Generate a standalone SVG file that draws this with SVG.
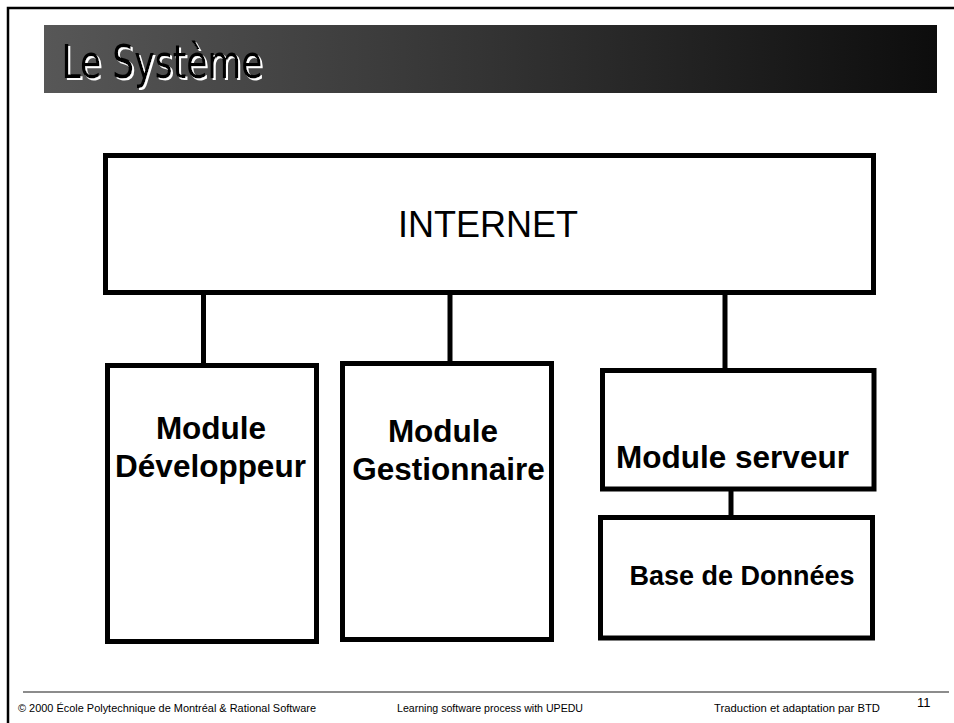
<svg xmlns="http://www.w3.org/2000/svg" width="954" height="723" viewBox="0 0 954 723">
<defs>
<linearGradient id="bar" x1="0" y1="0" x2="1" y2="0">
<stop offset="0" stop-color="#575757"/>
<stop offset="0.5" stop-color="#333333"/>
<stop offset="1" stop-color="#0d0d0d"/>
</linearGradient>
<filter id="whiteShadow" x="-5%" y="-20%" width="115%" height="150%">
<feFlood flood-color="#ffffff" result="w"/>
<feComposite in="w" in2="SourceAlpha" operator="in" result="ws"/>
<feOffset in="ws" dx="2" dy="2" result="off"/>
<feMerge><feMergeNode in="off"/><feMergeNode in="SourceGraphic"/></feMerge>
</filter>
<style>
.box{fill:#ffffff;stroke:#000000;stroke-width:5}
.conn line{stroke:#000000;stroke-width:5}
.lbl{font-family:"Liberation Sans",Arial,sans-serif;font-weight:bold;font-size:31.5px;fill:#000000;text-anchor:middle}
.foot{font-family:"Liberation Sans",Arial,sans-serif;font-size:10.5px;fill:#000000}
.title{font-family:"Liberation Sans Narrow","Arial Narrow","DejaVu Sans Condensed",sans-serif;font-stretch:condensed;font-size:47px}
</style>
</defs>
<rect x="0" y="0" width="954" height="723" fill="#ffffff"/>
<path d="M8,723 V8 H954" fill="none" stroke="#000000" stroke-width="2.5"/>
<g id="title">
<rect x="44" y="25" width="893" height="68" fill="url(#bar)"/>
<text class="title" x="61.5" y="78" fill="#000000" filter="url(#whiteShadow)" textLength="201" lengthAdjust="spacingAndGlyphs">Le Système</text>
</g>
<g id="connectors" class="conn">
<line x1="203.5" y1="293" x2="203.5" y2="365"/>
<line x1="450" y1="293" x2="450" y2="363"/>
<line x1="725" y1="293" x2="725" y2="370"/>
<line x1="731" y1="489" x2="731" y2="517"/>
</g>
<g id="internet">
<rect class="box" x="105.5" y="155.5" width="768" height="137"/>
<text x="398" y="237" font-family="Liberation Sans, Arial, sans-serif" font-size="36" fill="#000000">INTERNET</text>
</g>
<g id="module-developpeur">
<rect class="box" x="107.5" y="365.5" width="209" height="276"/>
<text class="lbl" x="211" y="439">Module</text>
<text class="lbl" x="210.5" y="477">Développeur</text>
</g>
<g id="module-gestionnaire">
<rect class="box" x="342.5" y="363.5" width="209" height="276"/>
<text class="lbl" x="443" y="442">Module</text>
<text class="lbl" x="448.5" y="480">Gestionnaire</text>
</g>
<g id="module-serveur">
<rect class="box" x="602.5" y="370.5" width="271.5" height="118.5"/>
<text class="lbl" x="732.5" y="468">Module serveur</text>
</g>
<g id="base-de-donnees">
<rect class="box" x="600.5" y="517.5" width="272" height="120.5"/>
<text class="lbl" x="742" y="585" style="font-size:27px">Base de Données</text>
</g>
<g id="footer">
<line x1="23" y1="692" x2="949" y2="692" stroke="#666666" stroke-width="1.5"/>
<text class="foot" x="18" y="712" textLength="298" lengthAdjust="spacingAndGlyphs">© 2000 École Polytechnique de Montréal  &amp; Rational Software</text>
<text class="foot" x="397" y="712" textLength="186" lengthAdjust="spacingAndGlyphs">Learning software process with UPEDU</text>
<text class="foot" x="714" y="712" textLength="166" lengthAdjust="spacingAndGlyphs">Traduction et adaptation par BTD</text>
<text class="foot" x="917" y="707" style="font-size:13px">11</text>
</g>
</svg>
